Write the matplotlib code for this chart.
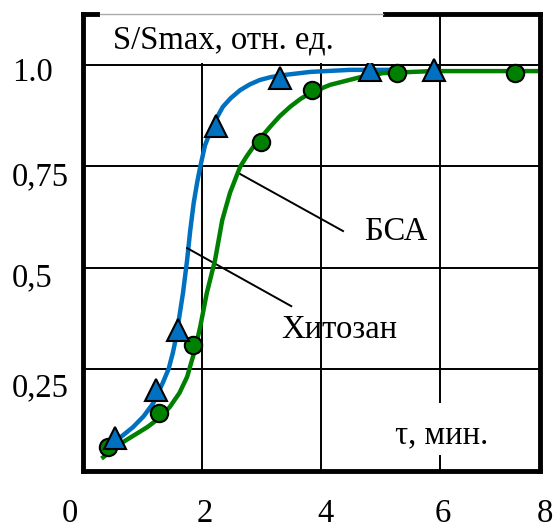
import matplotlib
matplotlib.use("Agg")
import matplotlib.pyplot as plt
from matplotlib.patches import Rectangle

plt.rcParams['font.family'] = ['Liberation Serif', 'DejaVu Serif']

# measured points (markers)
bsa_x = [0.54, 1.23, 1.60, 2.24, 3.31, 4.82, 5.90]
bsa_y = [0.081, 0.200, 0.347, 0.850, 0.968, 0.988, 0.988]
chit_x = [0.42, 1.28, 1.85, 2.99, 3.85, 5.28, 7.26]
chit_y = [0.059, 0.143, 0.310, 0.810, 0.938, 0.980, 0.980]

# smooth curves
bsa_cx = [0.39, 0.57, 0.84, 1.02, 1.18, 1.34, 1.44, 1.51, 1.57, 1.61, 1.68,
          1.75, 1.80, 1.86, 1.92, 1.97, 2.05, 2.17, 2.26, 2.35, 2.48, 2.64,
          2.80, 2.97, 3.15, 3.36, 3.82, 4.49, 5.33]
bsa_cy = [0.057, 0.076, 0.108, 0.135, 0.167, 0.217, 0.252, 0.291, 0.333,
          0.372, 0.438, 0.520, 0.590, 0.660, 0.712, 0.749, 0.802, 0.847,
          0.873, 0.897, 0.918, 0.938, 0.952, 0.963, 0.970, 0.975, 0.983,
          0.988, 0.988]
chit_cx = [0.34, 0.67, 1.08, 1.28, 1.46, 1.62, 1.75, 1.88, 1.97, 2.08, 2.22,
           2.34, 2.47, 2.64, 2.75, 2.86, 3.00, 3.14, 3.30, 3.48, 3.65, 3.82,
           4.15, 4.66, 5.04, 5.88, 7.68]
chit_cy = [0.034, 0.071, 0.108, 0.130, 0.158, 0.192, 0.232, 0.298, 0.355,
           0.438, 0.520, 0.618, 0.685, 0.749, 0.775, 0.798, 0.823, 0.847,
           0.873, 0.897, 0.916, 0.931, 0.951, 0.970, 0.980, 0.985, 0.985]

x_ticks = ['0', '2', '4', '6', '8']
y_ticks = ['1.0', '0,75', '0,5', '0,25']

fig = plt.figure(figsize=(5.54, 5.28), dpi=100)
ax = fig.add_axes([83 / 554, 57 / 528, 457 / 554, 457 / 528])
ax.set_xlim(0, 7.68)
ax.set_ylim(0, 1.1256)

for gx in [2, 4, 6]:
    ax.axvline(gx, color='black', lw=1.4, zorder=1)
for gy in [0.25, 0.5, 0.75, 1.0]:
    ax.axhline(gy, color='black', lw=1.4, zorder=1)

ax.plot(bsa_cx, bsa_cy, color='#0070C0', lw=3.2, zorder=2)
ax.plot(chit_cx, chit_cy, color='#008000', lw=3.2, zorder=2.1)
ax.plot(chit_x, chit_y, 'o', color='#008000', mec='black', mew=1.5,
        ms=12.5, zorder=3)
ax.plot(bsa_x, bsa_y, '^', color='#0070C0', mec='black', mew=1.5,
        ms=16, zorder=3.1)

for s in ax.spines.values():
    s.set_linewidth(3.5)
ax.set_xticks([])
ax.set_yticks([])

# white title box over the top frame
ax.add_patch(Rectangle((0.29, 1.005), 4.75, 0.14, facecolor='white',
                       edgecolor='none', clip_on=False, zorder=3.5))
ax.plot([0.29, 5.04], [1.1256, 1.1256], color='#aaaaaa', lw=1,
        clip_on=False, zorder=3.6)
ax.text(0.50, 1.062, 'S/Smax, отн. ед.', fontsize=23.5, va='center',
        ha='left', zorder=4)

# gap in the grid line behind the axis label
ax.add_patch(Rectangle((5.9, 0.039), 0.2, 0.128, facecolor='white',
                       edgecolor='none', zorder=1.5))
ax.text(5.24, 0.089, 'τ, мин.', fontsize=23.5, va='center', ha='left')

ax.plot([2.61, 4.37], [0.734, 0.591], color='black', lw=1.4)
ax.text(4.74, 0.589, 'БСА', fontsize=23.5, va='center', ha='left')
ax.plot([1.75, 3.50], [0.549, 0.406], color='black', lw=1.4)
ax.text(3.34, 0.347, 'Хитозан', fontsize=23.5, va='center', ha='left')

for lbl, px in zip(x_ticks, [70, 205, 325, 443, 545]):
    fig.text(px / 554, (528 - 514) / 528, lbl, fontsize=23.5,
             ha='center', va='center')
for lbl, py in zip(y_ticks, [73, 177, 278, 388]):
    fig.text(12 / 554, (528 - py) / 528, lbl, fontsize=23.5,
             ha='left', va='center')

fig.savefig('out.png', dpi=100)
